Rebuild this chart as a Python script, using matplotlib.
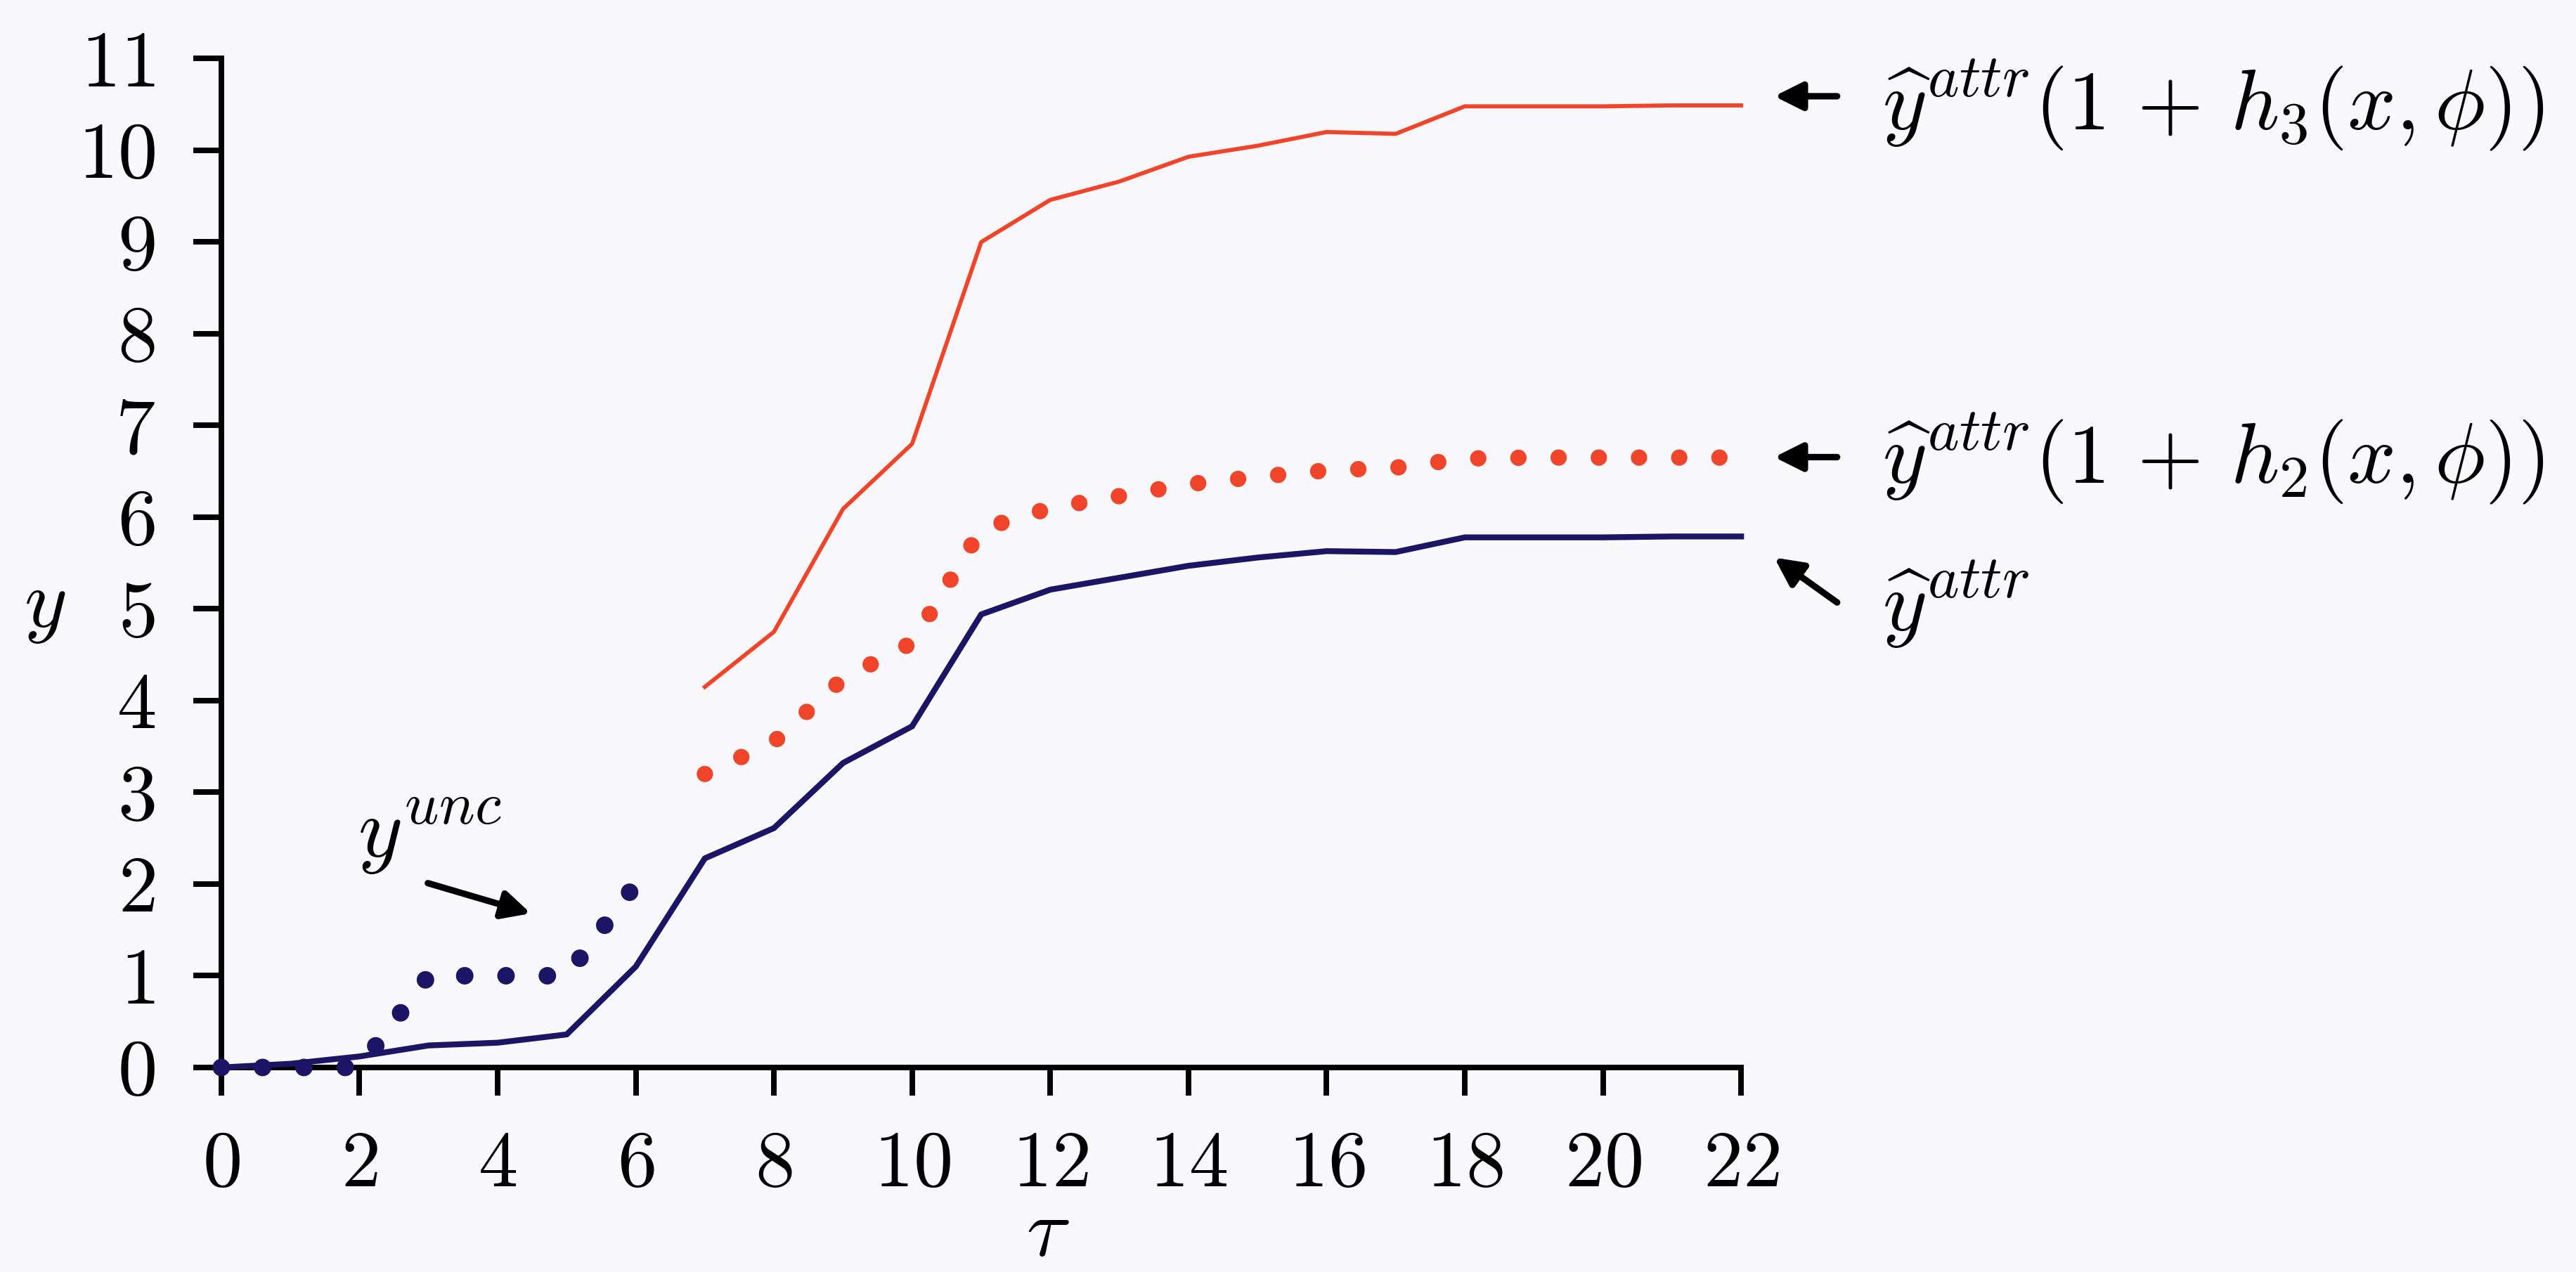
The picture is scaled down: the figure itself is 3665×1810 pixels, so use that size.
import matplotlib
matplotlib.use("Agg")
import matplotlib.pyplot as plt

plt.rcParams['mathtext.fontset'] = 'cm'
plt.rcParams['font.family'] = 'serif'
plt.rcParams['font.serif'] = ['cmr10', 'DejaVu Serif']
plt.rcParams['axes.unicode_minus'] = False

# 数据
tau = list(range(23))
y_attr = [0, 0.04, 0.12, 0.24, 0.27, 0.36, 1.1, 2.28, 2.61, 3.32, 3.72, 4.94,
          5.21, 5.34, 5.47, 5.56, 5.63, 5.62, 5.78, 5.78, 5.78, 5.79, 5.79]
tau_h = list(range(7, 23))
y_h2 = [3.2, 3.55, 4.24, 4.63, 5.87, 6.1, 6.23, 6.36, 6.44, 6.51, 6.54, 6.64,
        6.65, 6.65, 6.65, 6.65]
y_h3 = [4.15, 4.75, 6.09, 6.8, 9.0, 9.46, 9.66, 9.93, 10.05, 10.2, 10.18, 10.48,
        10.48, 10.48, 10.49, 10.49]
tau_unc = [0, 1, 2, 3, 4, 5, 6]
y_unc = [0, 0, 0, 1, 1, 1, 2]

x_ticks = list(range(0, 23, 2))
y_ticks = list(range(0, 12))

red = '#f0452a'
navy = '#1c1464'

fig = plt.figure(figsize=(3665 / 300, 1810 / 300), dpi=300, facecolor='#f8f8fd')
ax = fig.add_axes([0.0859, 0.1608, 0.590, 0.7931])
ax.set_facecolor('none')

# 折线
ax.plot(tau, y_attr, color=navy, linewidth=2.0, clip_on=False, zorder=3)
ax.plot(tau_h, y_h3, color=red, linewidth=1.4, clip_on=False, zorder=3)
ax.plot(tau_h, y_h2, color=red, linewidth=5.6, linestyle=(0, (0.001, 2.45)),
        dash_capstyle='round', clip_on=False, zorder=3)
ax.plot(tau_unc, y_unc, color=navy, linewidth=6.0, linestyle=(0, (0.001, 2.35)),
        dash_capstyle='round', clip_on=False, zorder=3)

ax.set_xlim(0, 22)
ax.set_ylim(0, 11)
for side in ['top', 'right']:
    ax.spines[side].set_visible(False)
for side in ['left', 'bottom']:
    ax.spines[side].set_linewidth(1.9)

ax.set_xticks(x_ticks)
ax.set_xticklabels([f'${v}$' for v in x_ticks])
ax.set_yticks(y_ticks)
ax.set_yticklabels([f'${v}$' for v in y_ticks])
ax.tick_params(axis='both', direction='out', length=9.6, width=1.9, labelsize=27)
ax.tick_params(axis='x', pad=12)
ax.tick_params(axis='y', pad=13)

# 坐标轴标签
ax.text(-2.55, 5.0, r'$y$', fontsize=28, ha='center', va='center', clip_on=False)
ax.text(11.97, -1.83, r'$\tau$', fontsize=28, ha='center', va='center', clip_on=False)

# 曲线说明与箭头
fs = 29
arrow = dict(arrowstyle='-|>', color='black', lw=2.2, mutation_scale=20,
             shrinkA=0, shrinkB=0)
ax.annotate('', xy=(22.48, 10.59), xytext=(23.39, 10.59), arrowprops=arrow,
            annotation_clip=False)
ax.text(24.04, 10.49, r'$\widehat{y}^{attr}(1\,+\,h_3(x,\phi))$', fontsize=fs,
        ha='left', va='center', clip_on=False)
ax.annotate('', xy=(22.48, 6.655), xytext=(23.39, 6.655), arrowprops=arrow,
            annotation_clip=False)
ax.text(24.04, 6.64, r'$\widehat{y}^{attr}(1\,+\,h_2(x,\phi))$', fontsize=fs,
        ha='left', va='center', clip_on=False)
ax.annotate('', xy=(22.48, 5.56), xytext=(23.39, 5.07), arrowprops=arrow,
            annotation_clip=False)
ax.text(24.04, 5.05, r'$\widehat{y}^{attr}$', fontsize=fs,
        ha='left', va='center', clip_on=False)

ax.annotate('', xy=(4.48, 1.68), xytext=(2.99, 2.01), arrowprops=arrow)
ax.text(1.98, 2.52, r'$y^{unc}$', fontsize=fs, ha='left', va='center')

fig.savefig('out.png', dpi=300, facecolor=fig.get_facecolor())
